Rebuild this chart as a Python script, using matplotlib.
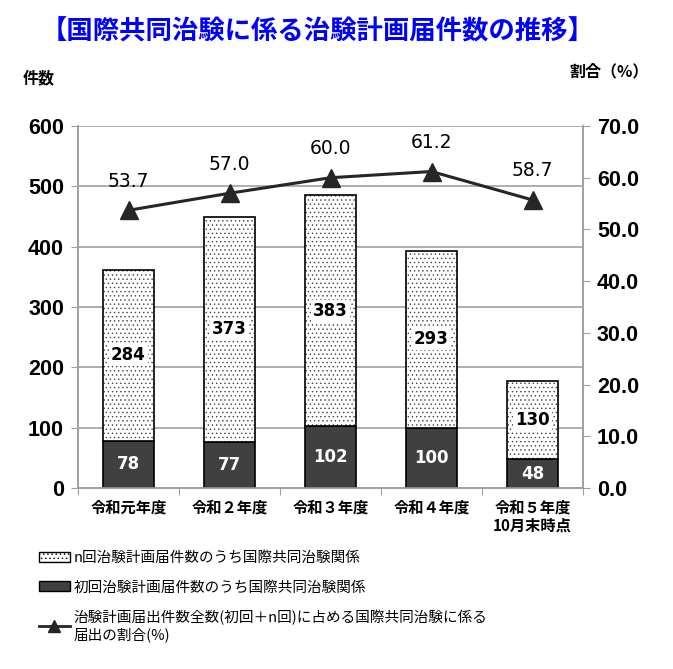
import numpy as np
import matplotlib.pyplot as plt
from matplotlib.patches import Patch
from matplotlib.lines import Line2D

plt.rcParams['font.family'] = ['Noto Sans CJK JP', 'DejaVu Sans']
plt.rcParams['hatch.linewidth'] = 0.5
plt.rcParams['hatch.color'] = '#444444'

categories = ['令和元年度', '令和２年度', '令和３年度', '令和４年度', '令和５年度\n10月末時点']
first_counts = [78, 77, 102, 100, 48]
n_counts = [284, 373, 383, 293, 130]
rate_plot = [53.7, 57.0, 60.0, 61.2, 55.7]
rate_labels = ['53.7', '57.0', '60.0', '61.2', '58.7']

legend_labels = [
    'n回治験計画届件数のうち国際共同治験関係',
    '初回治験計画届件数のうち国際共同治験関係',
    '治験計画届出件数全数(初回＋n回)に占める国際共同治験に係る\n届出の割合(%)',
]

fig = plt.figure(figsize=(6.73, 6.69), dpi=100)
ax = fig.add_axes([78 / 673, 1 - 488 / 669, (583 - 78) / 673, (488 - 126) / 669])
ax2 = ax.twinx()

x = np.arange(len(categories))
w = 0.5
dark = '#404040'
hatch = '....'
ax.bar(x, first_counts, w, color=dark, edgecolor='black', linewidth=1.2, zorder=3)
ax.bar(x, n_counts, w, bottom=first_counts, color='white', edgecolor='#444444',
       hatch=hatch, linewidth=0, zorder=3)
ax.bar(x, n_counts, w, bottom=first_counts, fill=False, edgecolor='black',
       linewidth=1.2, zorder=4)

for i in range(len(x)):
    ax.text(x[i], first_counts[i] / 2, str(first_counts[i]), ha='center', va='center',
            color='white', fontsize=12, fontweight='bold', family='DejaVu Sans', zorder=5)
    ax.text(x[i], first_counts[i] + n_counts[i] / 2, str(n_counts[i]), ha='center',
            va='center', color='black', fontsize=12, fontweight='bold', family='DejaVu Sans',
            zorder=5, bbox=dict(facecolor='white', edgecolor='none', pad=1.5))

ax.set_xlim(-0.5, len(x) - 0.5)
ax.set_ylim(0, 600)
ax.set_yticks(range(0, 601, 100))
ax.yaxis.grid(True, color='#a0a0a0', linewidth=1.2, zorder=0)
ax.set_axisbelow(True)
ax.set_xticks(np.arange(-0.5, len(x), 1.0))
ax.set_xticklabels([])
ax.tick_params(axis='x', length=5, color='#a0a0a0', direction='out')
ax.tick_params(axis='y', length=5, color='#a0a0a0', labelsize=15.5, pad=5)
for lab in ax.get_yticklabels():
    lab.set_fontweight('bold')
    lab.set_family('Liberation Sans')
for i, c in enumerate(categories):
    ax.text(x[i], -20, c, ha='center', va='top', fontsize=11, fontweight='bold',
            linespacing=1.15)

ax.spines['top'].set_visible(False)
ax2.spines['top'].set_visible(False)
for a in (ax, ax2):
    for s in ['left', 'right', 'bottom']:
        a.spines[s].set_color('#a0a0a0')
        a.spines[s].set_linewidth(1.2)

ax2.set_ylim(0, 70)
ax2.set_yticks(range(0, 71, 10))
ax2.set_yticklabels([f'{v:.1f}' for v in range(0, 71, 10)])
ax2.tick_params(axis='y', length=5, color='#a0a0a0', labelsize=15.5, pad=5)
for lab in ax2.get_yticklabels():
    lab.set_fontweight('bold')
    lab.set_family('Liberation Sans')
ax2.plot(x, rate_plot, color='#262626', linewidth=2.2, marker='^', markersize=13, zorder=6)
for i in range(len(x)):
    ax2.text(x[i], rate_plot[i] + 5.6, rate_labels[i], ha='center', va='center',
             fontsize=13.5, family='DejaVu Sans', color='black')

fig.text(318 / 673, 1 - 32 / 669, '【国際共同治験に係る治験計画届件数の推移】', ha='center',
         va='center', fontsize=19, fontweight='bold', color='#0000ff')
fig.text(39 / 673, 1 - 78 / 669, '件数', ha='center', va='center', fontsize=11.5,
         fontweight='bold')
fig.text(609 / 673, 1 - 71 / 669, '割合（%）', ha='center', va='center', fontsize=11.5,
         fontweight='bold')

handles = [
    Patch(facecolor='white', edgecolor='black', hatch=hatch),
    Patch(facecolor=dark, edgecolor='black'),
    Line2D([0], [0], color='#262626', linewidth=2, marker='^', markersize=8),
]
fig.legend(handles, legend_labels, loc='upper left', bbox_to_anchor=(26 / 673, 1 - 538 / 669),
           frameon=False, fontsize=10.5, handlelength=2.1, handletextpad=0.25,
           labelspacing=1.05)

fig.savefig('out.png', dpi=100)
